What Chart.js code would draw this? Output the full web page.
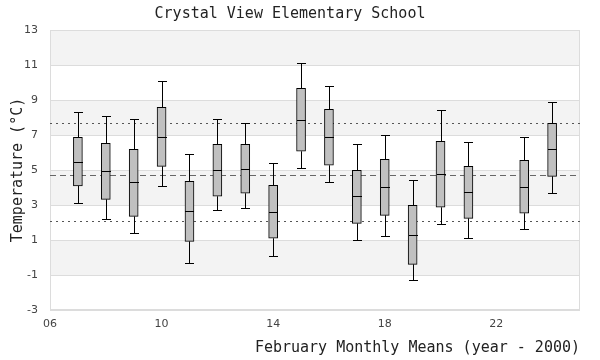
<!DOCTYPE html>
<html>
<head>
<meta charset="utf-8">
<script src="https://cdn.jsdelivr.net/npm/chart.js@4"></script>
<style>
html,body{margin:0;padding:0;background:#fff;}
#wrap{width:600px;height:360px;}
</style>
</head>
<body>
<div id="wrap"><canvas id="c" width="600" height="360"></canvas></div>
<script>
const years   = [7, 8, 9, 10, 11, 12, 13, 14, 15, 16, 17, 18, 19, 20, 21, 23, 24];
const mins    = [3.10, 2.18, 1.38, 4.07, -0.33, 2.70, 2.81, 0.07, 5.10, 4.30, 0.98, 1.21, -1.30, 1.90, 1.10, 1.61, 3.67];
const q1s     = [4.09, 3.32, 2.35, 5.21, 0.92, 3.50, 3.67, 1.10, 6.07, 5.27, 1.95, 2.41, -0.39, 2.87, 2.24, 2.53, 4.64];
const medians = [5.44, 4.92, 4.30, 6.87, 2.64, 4.98, 5.04, 2.58, 7.84, 6.87, 3.50, 4.01, 1.27, 4.75, 3.73, 4.01, 6.18];
const q3s     = [6.87, 6.52, 6.18, 8.58, 4.35, 6.47, 6.47, 4.12, 9.67, 8.47, 4.98, 5.61, 2.98, 6.64, 5.21, 5.55, 7.67];
const maxs    = [8.30, 8.07, 7.90, 10.07, 5.90, 7.90, 7.67, 5.38, 11.10, 9.78, 6.47, 6.98, 4.41, 8.41, 6.58, 6.87, 8.87];
const refMean = 4.70;
const refUpper = 7.67;
const refLower = 2.07;
const xTicks = [6, 10, 14, 18, 22];
const yTicks = [-3, -1, 1, 3, 5, 7, 9, 11, 13];

const BOXW = 9;

const bgPlugin = {
  id: 'bg',
  beforeDraw(chart) {
    const {ctx, chartArea: a, scales: {y}} = chart;
    ctx.save();
    ctx.fillStyle = '#fff';
    ctx.fillRect(0, 0, chart.width, chart.height);
    ctx.fillStyle = '#f3f3f3';
    for (let i = 0; i < yTicks.length - 1; i++) {
      if ((yTicks.length - 2 - i) % 2 === 0) {
        const t = y.getPixelForValue(yTicks[i + 1]);
        const b = y.getPixelForValue(yTicks[i]);
        ctx.fillRect(a.left, t, a.right - a.left, b - t);
      }
    }
    ctx.restore();
  },
  beforeDatasetsDraw(chart) {
    const {ctx, chartArea: a, scales: {y}} = chart;
    ctx.save();
    ctx.strokeStyle = '#dcdcdc';
    ctx.lineWidth = 1;
    ctx.strokeRect(a.left + 0.5, a.top + 0.5, a.right - a.left - 1, a.bottom - a.top - 1);
    const line = (v, dash, color) => {
      const py = Math.round(y.getPixelForValue(v)) + 0.5;
      ctx.setLineDash(dash);
      ctx.strokeStyle = color;
      ctx.beginPath();
      ctx.moveTo(a.left, py);
      ctx.lineTo(a.right, py);
      ctx.stroke();
    };
    line(refUpper, [2, 4], '#555');
    line(refLower, [2, 4], '#555');
    line(refMean, [6, 4], '#666');
    ctx.restore();
  },
  afterDatasetsDraw(chart) {
    const {ctx, scales: {x, y}} = chart;
    ctx.save();
    ctx.strokeStyle = '#000';
    ctx.lineWidth = 1;
    ctx.setLineDash([]);
    years.forEach((yr, i) => {
      const cx = Math.round(x.getPixelForValue(yr)) + 0.5;
      const half = BOXW / 2;
      const pMax = Math.round(y.getPixelForValue(maxs[i])) + 0.5;
      const pMin = Math.round(y.getPixelForValue(mins[i])) + 0.5;
      const pQ1 = y.getPixelForValue(q1s[i]);
      const pQ3 = y.getPixelForValue(q3s[i]);
      const pMed = Math.round(y.getPixelForValue(medians[i])) + 0.5;
      ctx.beginPath();
      ctx.moveTo(cx, pMax); ctx.lineTo(cx, pQ3);
      ctx.moveTo(cx, pQ1); ctx.lineTo(cx, pMin);
      ctx.moveTo(cx - half, pMax); ctx.lineTo(cx + half, pMax);
      ctx.moveTo(cx - half, pMin); ctx.lineTo(cx + half, pMin);
      ctx.moveTo(cx - half, pMed); ctx.lineTo(cx + half, pMed);
      ctx.stroke();
    });
    ctx.restore();
  }
};

new Chart(document.getElementById('c'), {
  type: 'bar',
  data: {
    datasets: [{
      data: years.map((yr, i) => ({x: yr, y: [q1s[i], q3s[i]]})),
      backgroundColor: '#c0c0c0',
      borderColor: '#000',
      borderWidth: 1,
      borderSkipped: false,
      barThickness: BOXW
    }]
  },
  options: {
    responsive: false,
    animation: false,
    events: [],
    layout: {padding: {left: 0, right: 20, top: 0, bottom: 0}},
    plugins: {
      legend: {display: false},
      tooltip: {enabled: false},
      title: {
        display: true,
        text: 'Crystal View Elementary School',
        color: '#222',
        font: {family: 'DejaVu Sans Mono', size: 15, weight: 'normal', lineHeight: 1.2},
        padding: {top: 5, bottom: 7}
      }
    },
    scales: {
      x: {
        type: 'linear',
        min: 6,
        max: 25,
        offset: false,
        afterBuildTicks(s) { s.ticks = xTicks.map(v => ({value: v})); },
        afterFit(s) { s.height = 50; },
        grid: {display: false, drawTicks: false},
        border: {display: false},
        ticks: {
          padding: 8,
          color: '#444',
          font: {family: 'DejaVu Sans', size: 11},
          callback: v => String(v).padStart(2, '0')
        },
        title: {
          display: true,
          text: 'February Monthly Means (year - 2000)',
          align: 'end',
          color: '#222',
          font: {family: 'DejaVu Sans Mono', size: 15, lineHeight: 1.2},
          padding: {top: 4, bottom: 3}
        }
      },
      y: {
        min: -3,
        max: 13,
        afterBuildTicks(s) { s.ticks = yTicks.map(v => ({value: v})); },
        afterFit(s) { s.width = 50; },
        grid: {color: '#dcdcdc', drawTicks: false},
        border: {display: false},
        ticks: {
          padding: 12,
          color: '#444',
          font: {family: 'DejaVu Sans', size: 11}
        },
        title: {
          display: true,
          text: 'Temperature (°C)',
          color: '#222',
          font: {family: 'DejaVu Sans Mono', size: 15, lineHeight: 1.2},
          padding: {top: 9, bottom: 0}
        }
      }
    }
  },
  plugins: [bgPlugin]
});
</script>
</body>
</html>
